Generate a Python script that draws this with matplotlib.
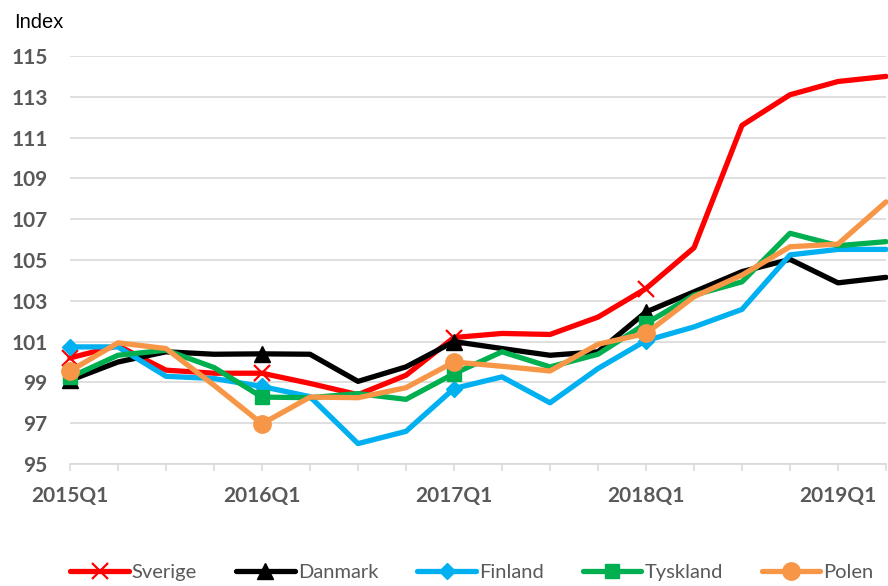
import matplotlib
matplotlib.use("Agg")
import matplotlib.pyplot as plt

quarters = ["2015Q1", "2015Q2", "2015Q3", "2015Q4",
            "2016Q1", "2016Q2", "2016Q3", "2016Q4",
            "2017Q1", "2017Q2", "2017Q3", "2017Q4",
            "2018Q1", "2018Q2", "2018Q3", "2018Q4",
            "2019Q1", "2019Q2"]

sverige = [100.2, 100.8, 99.6, 99.45, 99.45, 98.95, 98.4, 99.35,
           101.2, 101.4, 101.35, 102.2, 103.6, 105.6, 111.6, 113.1, 113.75, 114.0]
danmark = [99.1, 100.0, 100.5, 100.38, 100.4, 100.38, 99.05, 99.76,
           101.0, 100.66, 100.33, 100.5, 102.45, 103.44, 104.43, 105.03, 103.88, 104.15]
finland = [100.74, 100.74, 99.3, 99.19, 98.8, 98.3, 96.0, 96.6,
           98.7, 99.27, 98.0, 99.68, 101.05, 101.72, 102.58, 105.25, 105.52, 105.52]
tyskland = [99.25, 100.33, 100.58, 99.73, 98.28, 98.25, 98.45, 98.17,
            99.43, 100.5, 99.76, 100.38, 101.89, 103.28, 103.93, 106.31, 105.7, 105.9]
polen = [99.56, 100.94, 100.66, 98.86, 96.97, 98.28, 98.25, 98.74,
         100.0, 99.79, 99.56, 100.87, 101.4, 103.2, 104.26, 105.65, 105.78, 107.85]

series = [
    ("Sverige", sverige, "#FF0000", "x", 11, 1.6),
    ("Danmark", danmark, "#000000", "^", 11, 1.0),
    ("Finland", finland, "#00B0F0", "D", 8.5, 1.0),
    ("Tyskland", tyskland, "#00B050", "s", 10.5, 1.0),
    ("Polen", polen, "#F79646", "o", 12.5, 1.0),
]

W, H = 888, 586
fig = plt.figure(figsize=(W / 100, H / 100), dpi=100)
ax = fig.add_axes([70 / W, 1 - 464 / H, 816 / W, (464 - 56) / H])

x = list(range(len(quarters)))
for name, vals, col, mk, ms, mew in series:
    ax.plot(x, vals, color=col, lw=3.8, marker=mk, markersize=ms,
            markeredgewidth=mew, markevery=[0, 4, 8, 12],
            markerfacecolor=col, markeredgecolor=col,
            label=name, clip_on=False, solid_capstyle="round",
            solid_joinstyle="round", zorder=3)

ax.set_xlim(0, 17)
ax.set_ylim(95, 115)
yt = list(range(95, 116, 2))
ax.set_yticks(yt)
ax.set_yticklabels([str(v) for v in yt])
ax.set_xticks(x)
ax.set_xticklabels([q if i % 4 == 0 else "" for i, q in enumerate(quarters)])

for lab in ax.get_yticklabels() + ax.get_xticklabels():
    lab.set_fontfamily("Lato")
    lab.set_fontweight("bold")
    lab.set_fontsize(15)
    lab.set_color("#595959")

ax.tick_params(axis="y", length=0, pad=16)
ax.tick_params(axis="x", length=5, width=1.1, color="#D9D9D9", pad=11)
ax.grid(axis="y", color="#D9D9D9", lw=1.2, zorder=0)
ax.set_axisbelow(True)
for s in ["top", "right", "left"]:
    ax.spines[s].set_visible(False)
ax.spines["bottom"].set_color("#D9D9D9")
ax.spines["bottom"].set_linewidth(1.2)

fig.text(14 / W, 1 - 23 / H, "Index", fontsize=14.5, family="Liberation Sans",
         color="#000000", va="center", ha="left")

leg = fig.legend(loc="center", bbox_to_anchor=(472 / W, 13.5 / H), ncol=5,
                 frameon=False, handlelength=2.9, handletextpad=0.15,
                 columnspacing=1.95, prop={"family": "Lato", "size": 14.5},
                 numpoints=1, borderaxespad=0)
for t in leg.get_texts():
    t.set_color("#595959")

fig.savefig("out.png", dpi=100)
